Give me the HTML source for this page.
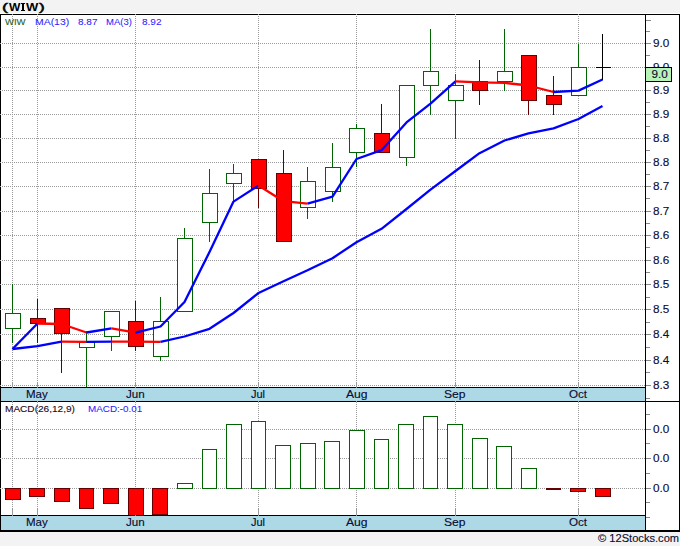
<!DOCTYPE html>
<html><head><meta charset="utf-8"><style>
html,body{margin:0;padding:0;width:680px;height:546px;overflow:hidden;background:#f3f3f3;}
body{position:relative;font-family:"Liberation Sans",sans-serif;}
</style></head><body>
<svg width="680" height="546" viewBox="0 0 680 546" shape-rendering="crispEdges" style="position:absolute;left:0;top:0;display:block">
<rect x="0" y="0" width="680" height="546" fill="#f3f3f3"/>
<rect x="0" y="13" width="680" height="520" fill="#ffffff"/>
<rect x="0" y="532" width="680" height="14" fill="#f3f3f3"/>
<line x1="1" y1="43.5" x2="645" y2="43.5" stroke="#999999" stroke-width="1" stroke-dasharray="1 1" stroke-dashoffset="1"/>
<line x1="1" y1="67.5" x2="645" y2="67.5" stroke="#999999" stroke-width="1" stroke-dasharray="1 1" stroke-dashoffset="1"/>
<line x1="1" y1="90.5" x2="645" y2="90.5" stroke="#999999" stroke-width="1" stroke-dasharray="1 1" stroke-dashoffset="1"/>
<line x1="1" y1="114.5" x2="645" y2="114.5" stroke="#999999" stroke-width="1" stroke-dasharray="1 1" stroke-dashoffset="1"/>
<line x1="1" y1="138.5" x2="645" y2="138.5" stroke="#999999" stroke-width="1" stroke-dasharray="1 1" stroke-dashoffset="1"/>
<line x1="1" y1="162.5" x2="645" y2="162.5" stroke="#999999" stroke-width="1" stroke-dasharray="1 1" stroke-dashoffset="1"/>
<line x1="1" y1="186.5" x2="645" y2="186.5" stroke="#999999" stroke-width="1" stroke-dasharray="1 1" stroke-dashoffset="1"/>
<line x1="1" y1="211.5" x2="645" y2="211.5" stroke="#999999" stroke-width="1" stroke-dasharray="1 1" stroke-dashoffset="1"/>
<line x1="1" y1="235.5" x2="645" y2="235.5" stroke="#999999" stroke-width="1" stroke-dasharray="1 1" stroke-dashoffset="1"/>
<line x1="1" y1="260.5" x2="645" y2="260.5" stroke="#999999" stroke-width="1" stroke-dasharray="1 1" stroke-dashoffset="1"/>
<line x1="1" y1="284.5" x2="645" y2="284.5" stroke="#999999" stroke-width="1" stroke-dasharray="1 1" stroke-dashoffset="1"/>
<line x1="1" y1="309.5" x2="645" y2="309.5" stroke="#999999" stroke-width="1" stroke-dasharray="1 1" stroke-dashoffset="1"/>
<line x1="1" y1="334.5" x2="645" y2="334.5" stroke="#999999" stroke-width="1" stroke-dasharray="1 1" stroke-dashoffset="1"/>
<line x1="1" y1="360.5" x2="645" y2="360.5" stroke="#999999" stroke-width="1" stroke-dasharray="1 1" stroke-dashoffset="1"/>
<line x1="1" y1="385.5" x2="645" y2="385.5" stroke="#999999" stroke-width="1" stroke-dasharray="1 1" stroke-dashoffset="1"/>
<line x1="12.5" y1="15" x2="12.5" y2="382" stroke="#999999" stroke-width="1" stroke-dasharray="1 1" stroke-dashoffset="1"/>
<rect x="12" y="382" width="1" height="5" fill="#999999"/>
<line x1="12.5" y1="402" x2="12.5" y2="509" stroke="#999999" stroke-width="1" stroke-dasharray="1 1"/>
<rect x="12" y="509" width="1" height="6" fill="#999999"/>
<line x1="37.5" y1="15" x2="37.5" y2="382" stroke="#999999" stroke-width="1" stroke-dasharray="1 1" stroke-dashoffset="1"/>
<rect x="37" y="382" width="1" height="5" fill="#999999"/>
<line x1="37.5" y1="402" x2="37.5" y2="509" stroke="#999999" stroke-width="1" stroke-dasharray="1 1"/>
<rect x="37" y="509" width="1" height="6" fill="#999999"/>
<line x1="135.5" y1="15" x2="135.5" y2="382" stroke="#999999" stroke-width="1" stroke-dasharray="1 1" stroke-dashoffset="1"/>
<rect x="135" y="382" width="1" height="5" fill="#999999"/>
<line x1="135.5" y1="402" x2="135.5" y2="509" stroke="#999999" stroke-width="1" stroke-dasharray="1 1"/>
<rect x="135" y="509" width="1" height="6" fill="#999999"/>
<line x1="258.5" y1="15" x2="258.5" y2="382" stroke="#999999" stroke-width="1" stroke-dasharray="1 1" stroke-dashoffset="1"/>
<rect x="258" y="382" width="1" height="5" fill="#999999"/>
<line x1="258.5" y1="402" x2="258.5" y2="509" stroke="#999999" stroke-width="1" stroke-dasharray="1 1"/>
<rect x="258" y="509" width="1" height="6" fill="#999999"/>
<line x1="356.5" y1="15" x2="356.5" y2="382" stroke="#999999" stroke-width="1" stroke-dasharray="1 1" stroke-dashoffset="1"/>
<rect x="356" y="382" width="1" height="5" fill="#999999"/>
<line x1="356.5" y1="402" x2="356.5" y2="509" stroke="#999999" stroke-width="1" stroke-dasharray="1 1"/>
<rect x="356" y="509" width="1" height="6" fill="#999999"/>
<line x1="455.5" y1="15" x2="455.5" y2="382" stroke="#999999" stroke-width="1" stroke-dasharray="1 1" stroke-dashoffset="1"/>
<rect x="455" y="382" width="1" height="5" fill="#999999"/>
<line x1="455.5" y1="402" x2="455.5" y2="509" stroke="#999999" stroke-width="1" stroke-dasharray="1 1"/>
<rect x="455" y="509" width="1" height="6" fill="#999999"/>
<line x1="578.5" y1="15" x2="578.5" y2="382" stroke="#999999" stroke-width="1" stroke-dasharray="1 1" stroke-dashoffset="1"/>
<rect x="578" y="382" width="1" height="5" fill="#999999"/>
<line x1="578.5" y1="402" x2="578.5" y2="509" stroke="#999999" stroke-width="1" stroke-dasharray="1 1"/>
<rect x="578" y="509" width="1" height="6" fill="#999999"/>
<line x1="1" y1="429.5" x2="645" y2="429.5" stroke="#999999" stroke-width="1" stroke-dasharray="1 1" stroke-dashoffset="1"/>
<line x1="1" y1="458.5" x2="645" y2="458.5" stroke="#999999" stroke-width="1" stroke-dasharray="1 1" stroke-dashoffset="1"/>
<line x1="1" y1="488.5" x2="645" y2="488.5" stroke="#999999" stroke-width="1" stroke-dasharray="1 1" stroke-dashoffset="1"/>
<rect x="12" y="284" width="1" height="59" fill="#006400"/>
<rect x="6" y="314" width="14" height="14" fill="#ffffff"/>
<rect x="5.5" y="313.5" width="15" height="15" fill="#ffffff" stroke="#006400" stroke-width="1"/>
<rect x="37" y="299" width="1" height="44" fill="#660000"/>
<rect x="30.5" y="318.5" width="15" height="5" fill="#ff0000" stroke="#660000" stroke-width="1"/>
<rect x="61" y="308" width="1" height="65" fill="#660000"/>
<rect x="54.5" y="308.5" width="15" height="25" fill="#ff0000" stroke="#660000" stroke-width="1"/>
<rect x="86" y="331" width="1" height="56" fill="#006400"/>
<rect x="80" y="343" width="14" height="4" fill="#ffffff"/>
<rect x="79.5" y="342.5" width="15" height="5" fill="#ffffff" stroke="#006400" stroke-width="1"/>
<rect x="111" y="311" width="1" height="40" fill="#006400"/>
<rect x="105" y="312" width="14" height="24" fill="#ffffff"/>
<rect x="104.5" y="311.5" width="15" height="25" fill="#ffffff" stroke="#006400" stroke-width="1"/>
<rect x="135" y="301" width="1" height="50" fill="#660000"/>
<rect x="128.5" y="321.5" width="15" height="25" fill="#ff0000" stroke="#660000" stroke-width="1"/>
<rect x="160" y="297" width="1" height="64" fill="#006400"/>
<rect x="154" y="322" width="14" height="34" fill="#ffffff"/>
<rect x="153.5" y="321.5" width="15" height="35" fill="#ffffff" stroke="#006400" stroke-width="1"/>
<rect x="184" y="228" width="1" height="84" fill="#006400"/>
<rect x="178" y="239" width="14" height="72" fill="#ffffff"/>
<rect x="177.5" y="238.5" width="15" height="73" fill="#ffffff" stroke="#006400" stroke-width="1"/>
<rect x="209" y="169" width="1" height="73" fill="#006400"/>
<rect x="203" y="194" width="14" height="28" fill="#ffffff"/>
<rect x="202.5" y="193.5" width="15" height="29" fill="#ffffff" stroke="#006400" stroke-width="1"/>
<rect x="233" y="164" width="1" height="39" fill="#006400"/>
<rect x="227" y="174" width="14" height="9" fill="#ffffff"/>
<rect x="226.5" y="173.5" width="15" height="10" fill="#ffffff" stroke="#006400" stroke-width="1"/>
<rect x="258" y="159" width="1" height="49" fill="#660000"/>
<rect x="251.5" y="159.5" width="15" height="29" fill="#ff0000" stroke="#660000" stroke-width="1"/>
<rect x="283" y="150" width="1" height="92" fill="#660000"/>
<rect x="276.5" y="173.5" width="15" height="68" fill="#ff0000" stroke="#660000" stroke-width="1"/>
<rect x="307" y="167" width="1" height="52" fill="#006400"/>
<rect x="301" y="182" width="14" height="25" fill="#ffffff"/>
<rect x="300.5" y="181.5" width="15" height="26" fill="#ffffff" stroke="#006400" stroke-width="1"/>
<rect x="332" y="143" width="1" height="59" fill="#006400"/>
<rect x="326" y="168" width="14" height="23" fill="#ffffff"/>
<rect x="325.5" y="167.5" width="15" height="24" fill="#ffffff" stroke="#006400" stroke-width="1"/>
<rect x="356" y="124" width="1" height="43" fill="#006400"/>
<rect x="350" y="129" width="14" height="23" fill="#ffffff"/>
<rect x="349.5" y="128.5" width="15" height="24" fill="#ffffff" stroke="#006400" stroke-width="1"/>
<rect x="381" y="104" width="1" height="49" fill="#660000"/>
<rect x="374.5" y="133.5" width="15" height="19" fill="#ff0000" stroke="#660000" stroke-width="1"/>
<rect x="406" y="85" width="1" height="81" fill="#006400"/>
<rect x="400" y="86" width="14" height="71" fill="#ffffff"/>
<rect x="399.5" y="85.5" width="15" height="72" fill="#ffffff" stroke="#006400" stroke-width="1"/>
<rect x="430" y="29" width="1" height="86" fill="#006400"/>
<rect x="424" y="72" width="14" height="13" fill="#ffffff"/>
<rect x="423.5" y="71.5" width="15" height="14" fill="#ffffff" stroke="#006400" stroke-width="1"/>
<rect x="455" y="74" width="1" height="65" fill="#006400"/>
<rect x="449" y="86" width="14" height="14" fill="#ffffff"/>
<rect x="448.5" y="85.5" width="15" height="15" fill="#ffffff" stroke="#006400" stroke-width="1"/>
<rect x="479" y="60" width="1" height="45" fill="#660000"/>
<rect x="472.5" y="81.5" width="15" height="9" fill="#ff0000" stroke="#660000" stroke-width="1"/>
<rect x="504" y="29" width="1" height="62" fill="#006400"/>
<rect x="498" y="72" width="14" height="9" fill="#ffffff"/>
<rect x="497.5" y="71.5" width="15" height="10" fill="#ffffff" stroke="#006400" stroke-width="1"/>
<rect x="528" y="55" width="1" height="60" fill="#660000"/>
<rect x="521.5" y="55.5" width="15" height="45" fill="#ff0000" stroke="#660000" stroke-width="1"/>
<rect x="553" y="76" width="1" height="39" fill="#660000"/>
<rect x="546.5" y="95.5" width="15" height="9" fill="#ff0000" stroke="#660000" stroke-width="1"/>
<rect x="578" y="44" width="1" height="52" fill="#006400"/>
<rect x="572" y="68" width="14" height="27" fill="#ffffff"/>
<rect x="571.5" y="67.5" width="15" height="28" fill="#ffffff" stroke="#006400" stroke-width="1"/>
<rect x="602" y="34" width="1" height="46" fill="#000000"/>
<rect x="596" y="67" width="15" height="1" fill="#000000"/>
<polyline points="12.5,349 37.5,346.2 61.5,341.7" fill="none" stroke="#0000ff" stroke-width="2.3" stroke-linejoin="round" stroke-linecap="butt" shape-rendering="geometricPrecision"/>
<polyline points="61.5,341.7 86.5,341.9" fill="none" stroke="#ff0000" stroke-width="2.3" stroke-linejoin="round" stroke-linecap="butt" shape-rendering="geometricPrecision"/>
<polyline points="86.5,341.9 111.5,341.6" fill="none" stroke="#0000ff" stroke-width="2.3" stroke-linejoin="round" stroke-linecap="butt" shape-rendering="geometricPrecision"/>
<polyline points="111.5,341.6 135.5,341.7 160.5,341.8" fill="none" stroke="#ff0000" stroke-width="2.3" stroke-linejoin="round" stroke-linecap="butt" shape-rendering="geometricPrecision"/>
<polyline points="160.5,341.8 184.5,336.5 209.5,328.8 233.5,313 258.5,293 283.5,281.2 307.5,270.3 332.5,258.2 356.5,242.2 381.5,228.8 406.5,209 430.5,189.7 455.5,171 479.5,153.2 504.5,140.5 528.5,133.3 553.5,128.3 578.5,119 602.5,106" fill="none" stroke="#0000ff" stroke-width="2.3" stroke-linejoin="round" stroke-linecap="butt" shape-rendering="geometricPrecision"/>
<polyline points="12.5,349 37.5,323.5" fill="none" stroke="#0000ff" stroke-width="2.3" stroke-linejoin="round" stroke-linecap="butt" shape-rendering="geometricPrecision"/>
<polyline points="37.5,323.5 61.5,324 86.5,332.5" fill="none" stroke="#ff0000" stroke-width="2.3" stroke-linejoin="round" stroke-linecap="butt" shape-rendering="geometricPrecision"/>
<polyline points="86.5,332.5 111.5,328.3" fill="none" stroke="#0000ff" stroke-width="2.3" stroke-linejoin="round" stroke-linecap="butt" shape-rendering="geometricPrecision"/>
<polyline points="111.5,328.3 135.5,332.7" fill="none" stroke="#ff0000" stroke-width="2.3" stroke-linejoin="round" stroke-linecap="butt" shape-rendering="geometricPrecision"/>
<polyline points="135.5,332.7 160.5,326.5 184.5,302 209.5,252 233.5,201.6 258.5,185.6" fill="none" stroke="#0000ff" stroke-width="2.3" stroke-linejoin="round" stroke-linecap="butt" shape-rendering="geometricPrecision"/>
<polyline points="258.5,185.6 283.5,201.2 307.5,203.7" fill="none" stroke="#ff0000" stroke-width="2.3" stroke-linejoin="round" stroke-linecap="butt" shape-rendering="geometricPrecision"/>
<polyline points="307.5,203.7 332.5,196.7 356.5,159 381.5,150.2 406.5,122.4 430.5,103.7 455.5,81.3" fill="none" stroke="#0000ff" stroke-width="2.3" stroke-linejoin="round" stroke-linecap="butt" shape-rendering="geometricPrecision"/>
<polyline points="455.5,81.3 479.5,82.4 504.5,82.9 528.5,85.5 553.5,92" fill="none" stroke="#ff0000" stroke-width="2.3" stroke-linejoin="round" stroke-linecap="butt" shape-rendering="geometricPrecision"/>
<polyline points="553.5,92 578.5,90.6 602.5,79.5" fill="none" stroke="#0000ff" stroke-width="2.3" stroke-linejoin="round" stroke-linecap="butt" shape-rendering="geometricPrecision"/>
<rect x="5.5" y="488.5" width="15" height="11" fill="#ff0000" stroke="#660000" stroke-width="1"/>
<rect x="29.5" y="488.5" width="15" height="8" fill="#ff0000" stroke="#660000" stroke-width="1"/>
<rect x="54.5" y="488.5" width="15" height="13" fill="#ff0000" stroke="#660000" stroke-width="1"/>
<rect x="79.5" y="488.5" width="14" height="20" fill="#ff0000" stroke="#660000" stroke-width="1"/>
<rect x="103.5" y="488.5" width="15" height="15" fill="#ff0000" stroke="#660000" stroke-width="1"/>
<rect x="128.5" y="488.5" width="15" height="27" fill="#ff0000" stroke="#660000" stroke-width="1"/>
<rect x="152.5" y="488.5" width="15" height="26" fill="#ff0000" stroke="#660000" stroke-width="1"/>
<rect x="177.5" y="483.5" width="15" height="5" fill="#ffffff" stroke="#006400" stroke-width="1"/>
<rect x="202.5" y="449.5" width="14" height="39" fill="#ffffff" stroke="#006400" stroke-width="1"/>
<rect x="226.5" y="424.5" width="15" height="64" fill="#ffffff" stroke="#006400" stroke-width="1"/>
<rect x="251.5" y="421.5" width="14" height="67" fill="#ffffff" stroke="#006400" stroke-width="1"/>
<rect x="275.5" y="445.5" width="15" height="43" fill="#ffffff" stroke="#006400" stroke-width="1"/>
<rect x="300.5" y="443.5" width="15" height="45" fill="#ffffff" stroke="#006400" stroke-width="1"/>
<rect x="324.5" y="441.5" width="15" height="47" fill="#ffffff" stroke="#006400" stroke-width="1"/>
<rect x="349.5" y="430.5" width="15" height="58" fill="#ffffff" stroke="#006400" stroke-width="1"/>
<rect x="374.5" y="439.5" width="14" height="49" fill="#ffffff" stroke="#006400" stroke-width="1"/>
<rect x="398.5" y="424.5" width="15" height="64" fill="#ffffff" stroke="#006400" stroke-width="1"/>
<rect x="423.5" y="416.5" width="14" height="72" fill="#ffffff" stroke="#006400" stroke-width="1"/>
<rect x="447.5" y="424.5" width="15" height="64" fill="#ffffff" stroke="#006400" stroke-width="1"/>
<rect x="472.5" y="438.5" width="15" height="50" fill="#ffffff" stroke="#006400" stroke-width="1"/>
<rect x="496.5" y="446.5" width="15" height="42" fill="#ffffff" stroke="#006400" stroke-width="1"/>
<rect x="521.5" y="468.5" width="15" height="20" fill="#ffffff" stroke="#006400" stroke-width="1"/>
<rect x="546.5" y="488.5" width="14" height="1" fill="#ff0000" stroke="#660000" stroke-width="1"/>
<rect x="570.5" y="488.5" width="15" height="3" fill="#ff0000" stroke="#660000" stroke-width="1"/>
<rect x="595.5" y="488.5" width="15" height="8" fill="#ff0000" stroke="#660000" stroke-width="1"/>
<rect x="0" y="14" width="680" height="1" fill="#000"/>
<rect x="0" y="14" width="1" height="518" fill="#000"/>
<rect x="679" y="14" width="1" height="518" fill="#000"/>
<rect x="645" y="14" width="1" height="518" fill="#000"/>
<rect x="1" y="388" width="644" height="13" fill="#add8e6"/>
<rect x="0" y="387" width="645" height="1" fill="#000"/>
<rect x="0" y="401" width="680" height="1" fill="#000"/>
<rect x="1" y="516" width="644" height="14" fill="#add8e6"/>
<rect x="0" y="515" width="645" height="1" fill="#000"/>
<rect x="0" y="530" width="680" height="2" fill="#000"/>
<rect x="0" y="43" width="1" height="1" fill="#aaaaaa"/>
<rect x="0" y="67" width="1" height="1" fill="#aaaaaa"/>
<rect x="0" y="90" width="1" height="1" fill="#aaaaaa"/>
<rect x="0" y="114" width="1" height="1" fill="#aaaaaa"/>
<rect x="0" y="138" width="1" height="1" fill="#aaaaaa"/>
<rect x="0" y="162" width="1" height="1" fill="#aaaaaa"/>
<rect x="0" y="186" width="1" height="1" fill="#aaaaaa"/>
<rect x="0" y="211" width="1" height="1" fill="#aaaaaa"/>
<rect x="0" y="235" width="1" height="1" fill="#aaaaaa"/>
<rect x="0" y="260" width="1" height="1" fill="#aaaaaa"/>
<rect x="0" y="284" width="1" height="1" fill="#aaaaaa"/>
<rect x="0" y="309" width="1" height="1" fill="#aaaaaa"/>
<rect x="0" y="334" width="1" height="1" fill="#aaaaaa"/>
<rect x="0" y="360" width="1" height="1" fill="#aaaaaa"/>
<rect x="0" y="385" width="1" height="1" fill="#aaaaaa"/>
<rect x="0" y="429" width="1" height="1" fill="#aaaaaa"/>
<rect x="0" y="458" width="1" height="1" fill="#aaaaaa"/>
<rect x="0" y="488" width="1" height="1" fill="#aaaaaa"/>
<rect x="12" y="14" width="1" height="1" fill="#999999"/>
<rect x="12" y="387" width="1" height="1" fill="#999999"/>
<rect x="12" y="401" width="1" height="1" fill="#999999"/>
<rect x="12" y="515" width="1" height="1" fill="#999999"/>
<rect x="37" y="14" width="1" height="1" fill="#999999"/>
<rect x="37" y="387" width="1" height="1" fill="#999999"/>
<rect x="37" y="401" width="1" height="1" fill="#999999"/>
<rect x="37" y="515" width="1" height="1" fill="#999999"/>
<rect x="135" y="14" width="1" height="1" fill="#999999"/>
<rect x="135" y="387" width="1" height="1" fill="#999999"/>
<rect x="135" y="401" width="1" height="1" fill="#999999"/>
<rect x="135" y="515" width="1" height="1" fill="#999999"/>
<rect x="258" y="14" width="1" height="1" fill="#999999"/>
<rect x="258" y="387" width="1" height="1" fill="#999999"/>
<rect x="258" y="401" width="1" height="1" fill="#999999"/>
<rect x="258" y="515" width="1" height="1" fill="#999999"/>
<rect x="356" y="14" width="1" height="1" fill="#999999"/>
<rect x="356" y="387" width="1" height="1" fill="#999999"/>
<rect x="356" y="401" width="1" height="1" fill="#999999"/>
<rect x="356" y="515" width="1" height="1" fill="#999999"/>
<rect x="455" y="14" width="1" height="1" fill="#999999"/>
<rect x="455" y="387" width="1" height="1" fill="#999999"/>
<rect x="455" y="401" width="1" height="1" fill="#999999"/>
<rect x="455" y="515" width="1" height="1" fill="#999999"/>
<rect x="578" y="14" width="1" height="1" fill="#999999"/>
<rect x="578" y="387" width="1" height="1" fill="#999999"/>
<rect x="578" y="401" width="1" height="1" fill="#999999"/>
<rect x="578" y="515" width="1" height="1" fill="#999999"/>
<rect x="646" y="20" width="5" height="1" fill="#888888"/>
<rect x="646" y="31" width="4" height="1" fill="#888888"/>
<rect x="646" y="43" width="5" height="1" fill="#888888"/>
<rect x="646" y="55" width="4" height="1" fill="#888888"/>
<rect x="646" y="67" width="5" height="1" fill="#888888"/>
<rect x="646" y="78" width="4" height="1" fill="#888888"/>
<rect x="646" y="90" width="5" height="1" fill="#888888"/>
<rect x="646" y="102" width="4" height="1" fill="#888888"/>
<rect x="646" y="114" width="5" height="1" fill="#888888"/>
<rect x="646" y="126" width="4" height="1" fill="#888888"/>
<rect x="646" y="138" width="5" height="1" fill="#888888"/>
<rect x="646" y="150" width="4" height="1" fill="#888888"/>
<rect x="646" y="162" width="5" height="1" fill="#888888"/>
<rect x="646" y="174" width="4" height="1" fill="#888888"/>
<rect x="646" y="186" width="5" height="1" fill="#888888"/>
<rect x="646" y="198" width="4" height="1" fill="#888888"/>
<rect x="646" y="211" width="5" height="1" fill="#888888"/>
<rect x="646" y="223" width="4" height="1" fill="#888888"/>
<rect x="646" y="235" width="5" height="1" fill="#888888"/>
<rect x="646" y="247" width="4" height="1" fill="#888888"/>
<rect x="646" y="260" width="5" height="1" fill="#888888"/>
<rect x="646" y="272" width="4" height="1" fill="#888888"/>
<rect x="646" y="284" width="5" height="1" fill="#888888"/>
<rect x="646" y="297" width="4" height="1" fill="#888888"/>
<rect x="646" y="309" width="5" height="1" fill="#888888"/>
<rect x="646" y="322" width="4" height="1" fill="#888888"/>
<rect x="646" y="334" width="5" height="1" fill="#888888"/>
<rect x="646" y="347" width="4" height="1" fill="#888888"/>
<rect x="646" y="360" width="5" height="1" fill="#888888"/>
<rect x="646" y="372" width="4" height="1" fill="#888888"/>
<rect x="646" y="385" width="5" height="1" fill="#888888"/>
<rect x="646" y="398" width="4" height="1" fill="#888888"/>
<rect x="646" y="43" width="5" height="1" fill="#888888"/>
<rect x="646" y="67" width="5" height="1" fill="#888888"/>
<rect x="646" y="90" width="5" height="1" fill="#888888"/>
<rect x="646" y="114" width="5" height="1" fill="#888888"/>
<rect x="646" y="138" width="5" height="1" fill="#888888"/>
<rect x="646" y="162" width="5" height="1" fill="#888888"/>
<rect x="646" y="186" width="5" height="1" fill="#888888"/>
<rect x="646" y="211" width="5" height="1" fill="#888888"/>
<rect x="646" y="235" width="5" height="1" fill="#888888"/>
<rect x="646" y="260" width="5" height="1" fill="#888888"/>
<rect x="646" y="284" width="5" height="1" fill="#888888"/>
<rect x="646" y="309" width="5" height="1" fill="#888888"/>
<rect x="646" y="334" width="5" height="1" fill="#888888"/>
<rect x="646" y="360" width="5" height="1" fill="#888888"/>
<rect x="646" y="385" width="5" height="1" fill="#888888"/>
<rect x="646" y="429" width="5" height="1" fill="#888888"/>
<rect x="646" y="458" width="5" height="1" fill="#888888"/>
<rect x="646" y="488" width="5" height="1" fill="#888888"/>
<rect x="646" y="414" width="4" height="1" fill="#888888"/>
<rect x="646" y="443" width="4" height="1" fill="#888888"/>
<rect x="646" y="473" width="4" height="1" fill="#888888"/>
<rect x="646" y="502" width="4" height="1" fill="#888888"/>
<rect x="646" y="517" width="4" height="1" fill="#888888"/>
</svg>
<svg width="680" height="546" style="position:absolute;left:0;top:0" font-family="Liberation Sans"><text transform="translate(9.00,11.00) scale(1.0909,1)" font-size="11" font-weight="bold" fill="#000" stroke="#000" stroke-width="0">W</text><text transform="translate(26.00,11.00) scale(1.1818,1)" font-size="11" font-weight="bold" fill="#000" stroke="#000" stroke-width="0">W</text><text transform="translate(2.00,11.00) scale(1.6276,1)" font-size="11" font-weight="normal" fill="#000" stroke="#000" stroke-width="0.45">(</text><text transform="translate(39.00,11.00) scale(1.5625,1)" font-size="11" font-weight="normal" fill="#000" stroke="#000" stroke-width="0.45">)</text><g fill="#000" shape-rendering="crispEdges"><rect x="21" y="3" width="4" height="1"/><rect x="22" y="3" width="2" height="8"/><rect x="21" y="10" width="4" height="1"/></g><text transform="translate(5.00,25.00) scale(1.0000,1)" font-size="9.5" font-weight="normal" fill="#2e5e2e" stroke="#2e5e2e" stroke-width="0.12">WIW</text><text transform="translate(35.00,25.00) scale(1.0978,1)" font-size="9.5" font-weight="normal" fill="#2a1aff" stroke="#2a1aff" stroke-width="0.05">MA(13)</text><text transform="translate(78.00,25.00) scale(1.0556,1)" font-size="9.5" font-weight="normal" fill="#2a1aff" stroke="#2a1aff" stroke-width="0.05">8.87</text><text transform="translate(106.00,25.00) scale(1.0000,1)" font-size="9.5" font-weight="normal" fill="#2a1aff" stroke="#2a1aff" stroke-width="0.05">MA(3)</text><text transform="translate(142.00,25.00) scale(1.0556,1)" font-size="9.5" font-weight="normal" fill="#2a1aff" stroke="#2a1aff" stroke-width="0.05">8.92</text><text transform="translate(5.00,412.00) scale(1.0608,1)" font-size="9.5" font-weight="normal" fill="#1a081a" stroke="#1a081a" stroke-width="0.12">MACD(26,12,9)</text><text transform="translate(88.00,412.00) scale(1.0385,1)" font-size="9.5" font-weight="normal" fill="#2a1aff" stroke="#2a1aff" stroke-width="0.05">MACD:-0.01</text><text transform="translate(653.00,47.00) scale(1.0667,1)" font-size="11" font-weight="normal" fill="#0a0a30" stroke="#0a0a30" stroke-width="0.12">9.0</text><text transform="translate(653.00,71.00) scale(1.0667,1)" font-size="11" font-weight="normal" fill="#0a0a30" stroke="#0a0a30" stroke-width="0.12">9.0</text><text transform="translate(653.00,94.00) scale(1.0667,1)" font-size="11" font-weight="normal" fill="#0a0a30" stroke="#0a0a30" stroke-width="0.12">8.9</text><text transform="translate(653.00,118.00) scale(1.0667,1)" font-size="11" font-weight="normal" fill="#0a0a30" stroke="#0a0a30" stroke-width="0.12">8.9</text><text transform="translate(653.00,142.00) scale(1.0667,1)" font-size="11" font-weight="normal" fill="#0a0a30" stroke="#0a0a30" stroke-width="0.12">8.8</text><text transform="translate(653.00,166.00) scale(1.0667,1)" font-size="11" font-weight="normal" fill="#0a0a30" stroke="#0a0a30" stroke-width="0.12">8.8</text><text transform="translate(653.00,190.00) scale(1.0667,1)" font-size="11" font-weight="normal" fill="#0a0a30" stroke="#0a0a30" stroke-width="0.12">8.7</text><text transform="translate(653.00,215.00) scale(1.0667,1)" font-size="11" font-weight="normal" fill="#0a0a30" stroke="#0a0a30" stroke-width="0.12">8.7</text><text transform="translate(653.00,239.00) scale(1.0667,1)" font-size="11" font-weight="normal" fill="#0a0a30" stroke="#0a0a30" stroke-width="0.12">8.6</text><text transform="translate(653.00,264.00) scale(1.0667,1)" font-size="11" font-weight="normal" fill="#0a0a30" stroke="#0a0a30" stroke-width="0.12">8.6</text><text transform="translate(653.00,288.00) scale(1.0667,1)" font-size="11" font-weight="normal" fill="#0a0a30" stroke="#0a0a30" stroke-width="0.12">8.5</text><text transform="translate(653.00,313.00) scale(1.0667,1)" font-size="11" font-weight="normal" fill="#0a0a30" stroke="#0a0a30" stroke-width="0.12">8.5</text><text transform="translate(653.00,338.00) scale(1.0667,1)" font-size="11" font-weight="normal" fill="#0a0a30" stroke="#0a0a30" stroke-width="0.12">8.4</text><text transform="translate(653.00,364.00) scale(1.0667,1)" font-size="11" font-weight="normal" fill="#0a0a30" stroke="#0a0a30" stroke-width="0.12">8.4</text><text transform="translate(653.00,389.00) scale(1.0667,1)" font-size="11" font-weight="normal" fill="#0a0a30" stroke="#0a0a30" stroke-width="0.12">8.3</text><text transform="translate(653.00,433.00) scale(1.0667,1)" font-size="11" font-weight="normal" fill="#0a0a30" stroke="#0a0a30" stroke-width="0.12">0.0</text><text transform="translate(653.00,462.00) scale(1.0667,1)" font-size="11" font-weight="normal" fill="#0a0a30" stroke="#0a0a30" stroke-width="0.12">0.0</text><text transform="translate(653.00,492.00) scale(1.0667,1)" font-size="11" font-weight="normal" fill="#0a0a30" stroke="#0a0a30" stroke-width="0.12">0.0</text><text transform="translate(26.00,398.00) scale(1.0500,1)" font-size="11" font-weight="normal" fill="#0a0a30" stroke="#0a0a30" stroke-width="0.12">May</text><text transform="translate(26.00,526.00) scale(1.0500,1)" font-size="11" font-weight="normal" fill="#0a0a30" stroke="#0a0a30" stroke-width="0.12">May</text><text transform="translate(126.00,398.00) scale(1.0588,1)" font-size="11" font-weight="normal" fill="#0a0a30" stroke="#0a0a30" stroke-width="0.12">Jun</text><text transform="translate(126.00,526.00) scale(1.0588,1)" font-size="11" font-weight="normal" fill="#0a0a30" stroke="#0a0a30" stroke-width="0.12">Jun</text><text transform="translate(251.00,398.00) scale(1.0000,1)" font-size="11" font-weight="normal" fill="#0a0a30" stroke="#0a0a30" stroke-width="0.12">Jul</text><text transform="translate(251.00,526.00) scale(1.0000,1)" font-size="11" font-weight="normal" fill="#0a0a30" stroke="#0a0a30" stroke-width="0.12">Jul</text><text transform="translate(346.00,398.00) scale(1.1053,1)" font-size="11" font-weight="normal" fill="#0a0a30" stroke="#0a0a30" stroke-width="0.12">Aug</text><text transform="translate(346.00,526.00) scale(1.1053,1)" font-size="11" font-weight="normal" fill="#0a0a30" stroke="#0a0a30" stroke-width="0.12">Aug</text><text transform="translate(444.00,398.00) scale(1.1025,1)" font-size="11" font-weight="normal" fill="#0a0a30" stroke="#0a0a30" stroke-width="0.12">Sep</text><text transform="translate(444.00,526.00) scale(1.1025,1)" font-size="11" font-weight="normal" fill="#0a0a30" stroke="#0a0a30" stroke-width="0.12">Sep</text><text transform="translate(569.00,398.00) scale(1.0588,1)" font-size="11" font-weight="normal" fill="#0a0a30" stroke="#0a0a30" stroke-width="0.12">Oct</text><text transform="translate(569.00,526.00) scale(1.0588,1)" font-size="11" font-weight="normal" fill="#0a0a30" stroke="#0a0a30" stroke-width="0.12">Oct</text><text transform="translate(598.00,542.00) scale(1.0125,1)" font-size="11" font-weight="normal" fill="#0a0a30" stroke="#0a0a30" stroke-width="0.12">© 12Stocks.com</text><rect x="645.5" y="67.5" width="26" height="14" fill="#b8f4b8" stroke="#000" stroke-width="1" shape-rendering="crispEdges"/><text transform="translate(651.50,78.00) scale(1.0667,1)" font-size="11" fill="#0a0a30" stroke="#0a0a30" stroke-width="0.12">9.0</text></svg>
</body></html>
